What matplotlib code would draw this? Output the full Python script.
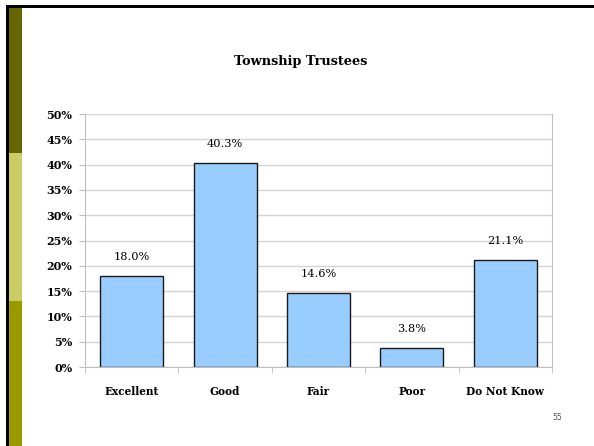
import matplotlib
matplotlib.use("Agg")
import matplotlib.pyplot as plt
from matplotlib.patches import Rectangle
from matplotlib.ticker import PercentFormatter

categories = ["Excellent", "Good", "Fair", "Poor", "Do Not Know"]
values = [18.0, 40.3, 14.6, 3.8, 21.1]
labels = ["18.0%", "40.3%", "14.6%", "3.8%", "21.1%"]
yticks = [0, 5, 10, 15, 20, 25, 30, 35, 40, 45, 50]

W, H = 594, 446
fig = plt.figure(figsize=(W / 100, H / 100), dpi=100)
fig.patch.set_facecolor("white")

# slide decoration: black frame top/left and olive side strip
def px_rect(x0, y0, x1, y1, color):
    fig.patches.append(Rectangle((x0 / W, 1 - y1 / H), (x1 - x0) / W, (y1 - y0) / H,
                                 transform=fig.transFigure, color=color, lw=0, zorder=0))

px_rect(6, 5, W, 8, "black")
px_rect(6, 5, 9, H, "black")
px_rect(9, 8, 22, 153, "#666600")
px_rect(9, 153, 22, 301, "#cccc66")
px_rect(9, 301, 22, H, "#999900")

ax = fig.add_axes([85 / W, 1 - 367 / H, (552 - 85) / W, (367 - 114) / H])
x = range(len(categories))
ax.bar(x, values, width=0.675, color="#99ccff", edgecolor="#1a1a1a", linewidth=1, zorder=3)

ax.set_xlim(-0.5, len(categories) - 0.5)
ax.set_ylim(0, 50)
ax.set_yticks(yticks)
ax.yaxis.set_major_formatter(PercentFormatter(decimals=0))
ax.set_xticks(list(x))
ax.set_xticklabels(categories)
ax.set_xticks([i + 0.5 for i in range(-1, len(categories))], minor=True)

serif = "DejaVu Serif"
for t in ax.get_yticklabels():
    t.set_fontfamily(serif)
    t.set_fontsize(8)
    t.set_fontweight("bold")
for t in ax.get_xticklabels():
    t.set_fontfamily(serif)
    t.set_fontsize(7.6)
    t.set_fontweight("bold")

ax.tick_params(axis="x", which="major", length=0, pad=14)
ax.tick_params(axis="x", which="minor", length=4, color="#bfbfbf")
ax.tick_params(axis="y", length=4, color="#bfbfbf", pad=5)
ax.yaxis.grid(True, color="#d4d4d4", linewidth=1, zorder=0)
for s in ax.spines.values():
    s.set_color("#bfbfbf")
ax.spines["top"].set_visible(False)

for i, (v, lab) in enumerate(zip(values, labels)):
    ax.annotate(lab, (i, v), xytext=(0, 19), textcoords="offset pixels",
                ha="center", va="center", fontsize=8.2, fontfamily=serif)

fig.text(301 / W, 1 - 62 / H, "Township Trustees", ha="center", va="center",
         fontsize=9.3, fontweight="bold", fontfamily=serif)
fig.text(557 / W, 1 - 418 / H, "55", ha="center", va="center", fontsize=5.5, color="#555555")

fig.savefig("out.png", dpi=100)
